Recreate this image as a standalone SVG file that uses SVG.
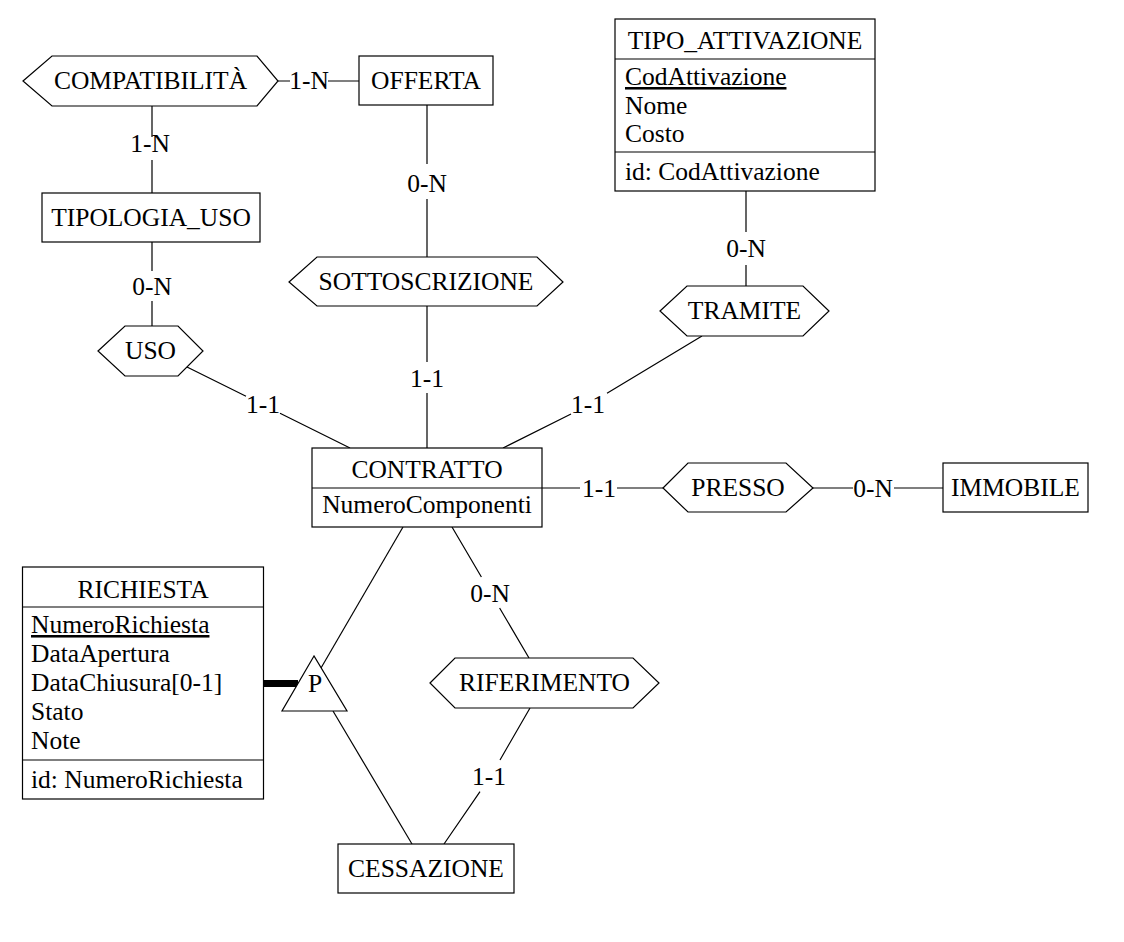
<svg xmlns="http://www.w3.org/2000/svg" width="1124" height="942" viewBox="0 0 1124 942">
<style>
.s{fill:#fff;stroke:#000;stroke-width:1.2}
.l{stroke:#000;stroke-width:1.2;fill:none}
text{font-family:"Liberation Serif","Times New Roman",serif;font-size:25.5px;fill:#000}
.c{text-anchor:middle}
.u{text-decoration:underline}
</style>
<rect width="1124" height="942" fill="#fff"/>
<g id="connectors">
<path class="l" d="M278,81H290M328,81H359"/>
<text class="c" x="309" y="89">1-N</text>
<path class="l" d="M152,106V137M152,160V193"/>
<text class="c" x="150" y="152">1-N</text>
<path class="l" d="M427,105V164M427,199V257"/>
<text class="c" x="427" y="192">0-N</text>
<path class="l" d="M152,242V271M152,301V326"/>
<text class="c" x="152" y="295">0-N</text>
<path class="l" d="M187,367L246,396.3M280,413.2L350,448"/>
<text class="c" x="263" y="413">1-1</text>
<path class="l" d="M427,306V362M427,393V448"/>
<text class="c" x="427" y="387">1-1</text>
<path class="l" d="M746,191V232M746,265V286"/>
<text class="c" x="746" y="257">0-N</text>
<path class="l" d="M702,336L607,393.3M571,414L503,448"/>
<text class="c" x="588" y="413">1-1</text>
<path class="l" d="M542,488H580M617,488H663"/>
<text class="c" x="599" y="497">1-1</text>
<path class="l" d="M813,488H853M894,488H943"/>
<text class="c" x="873" y="497">0-N</text>
<path class="l" d="M452,527L481.4,577M499.6,608L529,658"/>
<text class="c" x="490" y="602">0-N</text>
<path class="l" d="M530,708L500,760M480,791.7L444,844"/>
<text class="c" x="489" y="785">1-1</text>
<path class="l" d="M403,527L321,668"/>
<path class="l" d="M333,711L412,844"/>
<path d="M263,683.5H298" stroke="#000" stroke-width="7"/>
</g>
<g id="COMPATIBILITA">
<polygon class="s" points="23,81 52,56 257,56 278,81 257,106 52,106"/>
<text class="c" x="150.5" y="89">COMPATIBILITÀ</text>
</g>
<g id="OFFERTA">
<rect class="s" x="359" y="56" width="134" height="49"/>
<text class="c" x="426" y="89">OFFERTA</text>
</g>
<g id="TIPOLOGIA_USO">
<rect class="s" x="42" y="193" width="218" height="49"/>
<text class="c" x="151" y="226">TIPOLOGIA_USO</text>
</g>
<g id="SOTTOSCRIZIONE">
<polygon class="s" points="289,282 317,257 537,257 563,282 537,306 317,306"/>
<text class="c" x="426" y="290">SOTTOSCRIZIONE</text>
</g>
<g id="USO">
<polygon class="s" points="98,351 125,326 178,326 203,351 178,376 125,376"/>
<text class="c" x="150.5" y="359">USO</text>
</g>
<g id="TIPO_ATTIVAZIONE">
<rect class="s" x="615" y="19" width="260" height="172"/>
<path class="l" d="M615,59H875M615,152H875"/>
<text class="c" x="745" y="49">TIPO_ATTIVAZIONE</text>
<text class="u" x="625" y="85">CodAttivazione</text>
<text x="625" y="113.5">Nome</text>
<text x="625" y="142">Costo</text>
<text x="625" y="180">id: CodAttivazione</text>
</g>
<g id="TRAMITE">
<polygon class="s" points="660,311 687,286 803,286 829,311 803,336 687,336"/>
<text class="c" x="744.5" y="319">TRAMITE</text>
</g>
<g id="CONTRATTO">
<rect class="s" x="312" y="448" width="230" height="79"/>
<path class="l" d="M312,488H542"/>
<text class="c" x="427" y="478">CONTRATTO</text>
<text class="c" x="427" y="513">NumeroComponenti</text>
</g>
<g id="PRESSO">
<polygon class="s" points="663,488 688,463 786,463 813,488 786,512 688,512"/>
<text class="c" x="738" y="496">PRESSO</text>
</g>
<g id="IMMOBILE">
<rect class="s" x="943" y="463" width="145" height="49"/>
<text class="c" x="1015.5" y="496">IMMOBILE</text>
</g>
<g id="RICHIESTA">
<rect class="s" x="22.5" y="567" width="241" height="232"/>
<path class="l" d="M22.5,607H263.5M22.5,760H263.5"/>
<text class="c" x="143" y="598">RICHIESTA</text>
<text class="u" x="31" y="633">NumeroRichiesta</text>
<text x="31" y="662">DataApertura</text>
<text x="31" y="691">DataChiusura[0-1]</text>
<text x="31" y="720">Stato</text>
<text x="31" y="749">Note</text>
<text x="31" y="788">id: NumeroRichiesta</text>
</g>
<g id="GENERALIZZAZIONE">
<polygon class="s" points="314,656 282,711 347,711"/>
<text class="c" x="315" y="692">P</text>
</g>
<g id="RIFERIMENTO">
<polygon class="s" points="430,683 455,658 633,658 659,683 633,708 455,708"/>
<text class="c" x="544.5" y="691">RIFERIMENTO</text>
</g>
<g id="CESSAZIONE">
<rect class="s" x="338" y="844" width="176" height="49"/>
<text class="c" x="426" y="877">CESSAZIONE</text>
</g>
</svg>
